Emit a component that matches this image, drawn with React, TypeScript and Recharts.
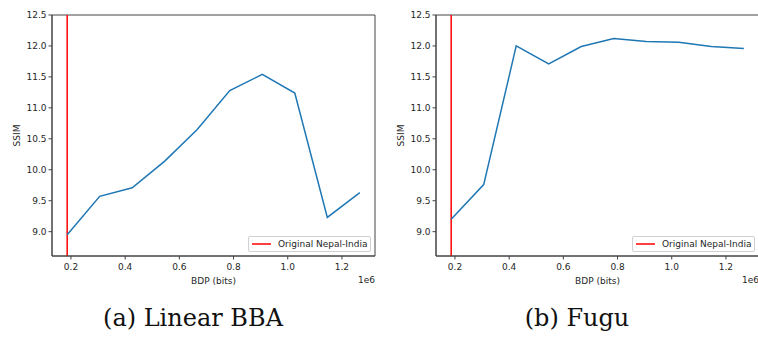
import React from "react";
import { LineChart, Line, XAxis, YAxis, ReferenceLine, ReferenceArea, Legend, Label } from "recharts";

// BDP values (bits) shared by both panels
const bdpBits = [186000, 306000, 426000, 546000, 666000, 786000, 906000, 1026000, 1146000, 1266000];
const linearBbaSsim = [8.95, 9.57, 9.71, 10.14, 10.65, 11.28, 11.54, 11.24, 9.23, 9.63];
const fuguSsim = [9.2, 9.76, 12.0, 11.71, 11.99, 12.12, 12.07, 12.06, 11.99, 11.96];
const originalBdp = 186000;
const legendLabel = "Original Nepal-India";

const xTicks = [200000, 400000, 600000, 800000, 1000000, 1200000];
const yTicks = [9.0, 9.5, 10.0, 10.5, 11.0, 11.5, 12.0, 12.5];
const xDomain = [130000, 1322000];
const yDomain = [8.607, 12.5];

const FONT = "'DejaVu Sans', sans-serif";
const AXIS = "#444";
const TEXT = "#262626";

function LegendBox() {
  return (
    <div
      style={{
        boxSizing: "border-box",
        width: 123,
        height: 16,
        border: "1px solid #d0d0d0",
        borderRadius: 2,
        background: "rgba(255,255,255,0.8)",
        display: "flex",
        alignItems: "center",
        fontFamily: FONT,
        fontSize: 9,
        color: TEXT,
        whiteSpace: "nowrap",
      }}
    >
      <svg width={19} height={4} style={{ marginLeft: 3, marginRight: 7 }}>
        <line x1={0} y1={2} x2={19} y2={2} stroke="#ff0000" strokeWidth={1.5} />
      </svg>
      <span>{legendLabel}</span>
    </div>
  );
}

function Panel({ values }: { values: number[] }) {
  const data = bdpBits.map((bdp, i) => ({ bdp, ssim: values[i] }));
  return (
    <LineChart
      width={380}
      height={290}
      data={data}
      margin={{ top: 15, right: 5, bottom: 4, left: 0 }}
      style={{ fontFamily: FONT }}
    >
      <XAxis
        dataKey="bdp"
        type="number"
        domain={xDomain}
        allowDataOverflow
        ticks={xTicks}
        interval={0}
        tickFormatter={(v: number) => (v / 1e6).toFixed(1)}
        tickSize={3.5}
        tickMargin={4}
        height={30}
        stroke={AXIS}
        tick={{ fill: TEXT, fontSize: 9 }}
      >
        <Label
          content={(p: any) => (
            <text
              x={p.viewBox.x + p.viewBox.width / 2}
              y={p.viewBox.y + p.viewBox.height - 2}
              textAnchor="middle"
              fontSize={9}
              fill={TEXT}
            >
              BDP (bits)
            </text>
          )}
        />
        <Label
          content={(p: any) => (
            <text
              x={p.viewBox.x + p.viewBox.width}
              y={p.viewBox.y + p.viewBox.height - 3}
              textAnchor="end"
              fontSize={9}
              fill={TEXT}
            >
              1e6
            </text>
          )}
        />
      </XAxis>
      <YAxis
        type="number"
        domain={yDomain}
        allowDataOverflow
        ticks={yTicks}
        interval={0}
        tickFormatter={(v: number) => v.toFixed(1)}
        tickSize={3.5}
        tickMargin={2}
        width={52}
        stroke={AXIS}
        tick={{ fill: TEXT, fontSize: 9 }}
      >
        <Label
          content={(p: any) => {
            const cx = 17;
            const cy = p.viewBox.y + p.viewBox.height / 2;
            return (
              <text
                x={cx}
                y={cy}
                transform={`rotate(-90, ${cx}, ${cy})`}
                textAnchor="middle"
                dominantBaseline="central"
                fontSize={9}
                fill={TEXT}
              >
                SSIM
              </text>
            );
          }}
        />
      </YAxis>
      {/* frame: top and right spines */}
      <ReferenceArea
        x1={xDomain[0]}
        x2={xDomain[1]}
        y1={yDomain[0]}
        y2={yDomain[1]}
        fill="none"
        stroke={AXIS}
        strokeWidth={1}
        ifOverflow="visible"
      />
      <ReferenceLine x={originalBdp} stroke="#ff0000" strokeWidth={1.5} />
      <Line
        dataKey="ssim"
        type="linear"
        stroke="#1f77b4"
        strokeWidth={1.5}
        dot={false}
        legendType="none"
        isAnimationActive={false}
      />
      <Legend
        layout="horizontal"
        verticalAlign="middle"
        align="center"
        wrapperStyle={{ left: 248, top: 236, width: 123, height: 16 }}
        content={() => <LegendBox />}
      />
    </LineChart>
  );
}

const titleStyle: React.CSSProperties = {
  position: "absolute",
  top: 306,
  width: 300,
  textAlign: "center",
  fontFamily: "'DejaVu Serif', serif",
  fontSize: 24,
  lineHeight: "24px",
  color: "#111",
};

export default function App() {
  return (
    <div
      style={{
        position: "absolute",
        left: 0,
        top: 0,
        width: 758,
        height: 339,
        overflow: "hidden",
        background: "#fff",
      }}
    >
      <div style={{ position: "absolute", left: 0, top: 0 }}>
        <Panel values={linearBbaSsim} />
      </div>
      <div style={{ position: "absolute", left: 384, top: 0 }}>
        <Panel values={fuguSsim} />
      </div>
      <div style={{ ...titleStyle, left: 193 - 150 }}>(a) Linear BBA</div>
      <div style={{ ...titleStyle, left: 577 - 150 }}>(b) Fugu</div>
    </div>
  );
}
